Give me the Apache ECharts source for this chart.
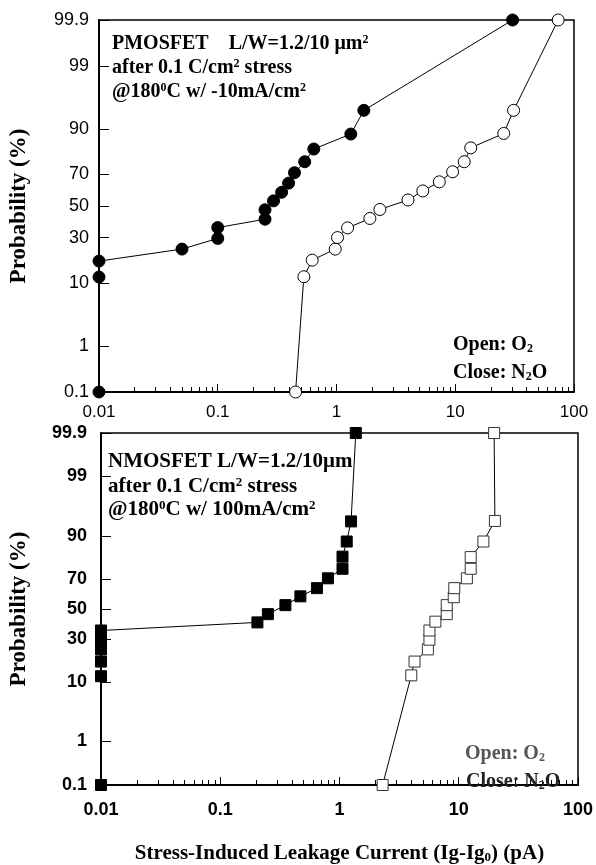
<!DOCTYPE html>
<html>
<head>
<meta charset="utf-8">
<script src="https://cdn.jsdelivr.net/npm/echarts@6/dist/echarts.min.js"></script>
<style>
html,body{margin:0;padding:0;background:#fff;}
#main{width:596px;height:865px;}
</style>
</head>
<body>
<div id="main"></div>
<script>
// tick labels
var xTickValues = [0.01, 0.1, 1, 10, 100];
var xTickLabels = ['0.01', '0.1', '1', '10', '100'];
var yTickValues = [0.1, 1, 10, 30, 50, 70, 90, 99, 99.9];
var yTickLabels = ['0.1', '1', '10', '30', '50', '70', '90', '99', '99.9'];

// PMOSFET, closed circles = N2O
var pmosN2OCurrent = [0.01, 0.01, 0.01, 0.05, 0.1, 0.1, 0.25, 0.25, 0.295, 0.345, 0.395, 0.443, 0.54, 0.644, 1.32, 1.70, 30.4];
var pmosN2OProb = [0.1, 11.9, 18, 23.7, 29.5, 36, 41.3, 47.5, 53.4, 59, 64.8, 71, 76.9, 82.8, 88.4, 94.4, 99.9];
// PMOSFET, open circles = O2
var pmosO2Current = [0.452, 0.531, 0.624, 0.975, 1.02, 1.24, 1.91, 2.32, 4.0, 5.33, 7.34, 9.5, 11.9, 13.5, 25.6, 31, 73.6];
var pmosO2Prob = [0.1, 12, 18.4, 23.7, 30, 35.8, 41.8, 47.7, 54, 59.9, 65.6, 71.5, 76.9, 83.3, 88.6, 94.4, 99.9];
// NMOSFET, closed squares = N2O
var nmosN2OCurrent = [0.01, 0.01, 0.01, 0.01, 0.01, 0.01, 0.205, 0.251, 0.352, 0.47, 0.647, 0.80, 1.06, 1.06, 1.15, 1.25, 1.37];
var nmosN2OProb = [0.1, 11.9, 17.8, 23.9, 29.5, 35.3, 40.7, 46.4, 52.7, 58.8, 64.3, 70.5, 76, 82.1, 88.2, 93.8, 99.9];
// NMOSFET, open squares = O2
var nmosO2Current = [2.30, 4.0, 4.26, 5.51, 5.68, 5.68, 6.37, 7.93, 7.93, 9.08, 9.18, 11.7, 12.6, 12.6, 16.1, 20.1, 19.8];
var nmosO2Prob = [0.1, 12.2, 17.8, 23.9, 29.5, 35.3, 41.2, 46.4, 52.7, 58.2, 64.3, 70.5, 76, 81.9, 88.2, 93.9, 99.9];

var serif = '"Liberation Serif", "Times New Roman", serif';
var sans = '"Liberation Sans", Arial, sans-serif';

// inverse normal cdf (probability paper)
function probit(pct)
{
    var p = pct / 100;
    var a = [-3.969683028665376e+01, 2.209460984245205e+02, -2.759285104469687e+02, 1.383577518672690e+02, -3.066479806614716e+01, 2.506628277459239e+00];
    var b = [-5.447609879822406e+01, 1.615858368580409e+02, -1.556989798598866e+02, 6.680131188771972e+01, -1.328068155288572e+01];
    var c = [-7.784894002430293e-03, -3.223964580411365e-01, -2.400758277161838e+00, -2.549732539343734e+00, 4.374664141464968e+00, 2.938163982698783e+00];
    var d = [7.784695709041462e-03, 3.224671290700398e-01, 2.445134137142996e+00, 3.754408661907416e+00];
    var pl = 0.02425, q, r;
    if (p < pl) {
        q = Math.sqrt(-2 * Math.log(p));
        return (((((c[0]*q+c[1])*q+c[2])*q+c[3])*q+c[4])*q+c[5]) / ((((d[0]*q+d[1])*q+d[2])*q+d[3])*q+1);
    }
    if (p > 1 - pl) {
        q = Math.sqrt(-2 * Math.log(1 - p));
        return -(((((c[0]*q+c[1])*q+c[2])*q+c[3])*q+c[4])*q+c[5]) / ((((d[0]*q+d[1])*q+d[2])*q+d[3])*q+1);
    }
    q = p - 0.5; r = q * q;
    return (((((a[0]*r+a[1])*r+a[2])*r+a[3])*r+a[4])*r+a[5])*q / (((((b[0]*r+b[1])*r+b[2])*r+b[3])*r+b[4])*r+1);
}

function pairs(xs, ps)
{
    var out = [];
    for (var i = 0; i < xs.length; i++) out.push([xs[i], probit(ps[i])]);
    return out;
}

var yTickZ = yTickValues.map(probit);
var yMin = probit(0.1), yMax = probit(99.9);

// minor ticks in log10 space
var minorLog = [];
for (var k = -2; k < 2; k++) {
    for (var m = 2; m <= 9; m++) minorLog.push(Math.log(m * Math.pow(10, k)) / Math.LN10);
}

function yLabel(v)
{
    var best = 0;
    for (var i = 1; i < yTickZ.length; i++) {
        if (Math.abs(yTickZ[i] - v) < Math.abs(yTickZ[best] - v)) best = i;
    }
    return yTickLabels[best];
}
function xLabel(v)
{
    var best = 0;
    for (var i = 1; i < xTickValues.length; i++) {
        if (Math.abs(Math.log(xTickValues[i] / v)) < Math.abs(Math.log(xTickValues[best] / v))) best = i;
    }
    return xTickLabels[best];
}

function yAxisFor(grid, bold, gap, margin)
{
    return {
        gridIndex: grid, type: 'value', min: yMin, max: yMax,
        axisLine: { show: true, onZero: false, lineStyle: { color: '#000', width: 2 } },
        axisTick: { show: true, inside: true, length: 10, customValues: yTickZ, lineStyle: { color: '#000', width: 1 } },
        axisLabel: { customValues: yTickZ, formatter: yLabel, color: '#000', fontFamily: sans, fontSize: 18, fontWeight: bold ? 'bold' : 'normal', margin: margin },
        splitLine: { show: false },
        name: 'Probability (%)', nameLocation: 'middle', nameGap: gap,
        nameTextStyle: { fontFamily: serif, fontSize: 23, fontWeight: 'bold', color: '#000' }
    };
}
function xMajorFor(grid, bold, margin)
{
    return {
        gridIndex: grid, type: 'log', logBase: 10, min: 0.01, max: 100, position: 'bottom',
        axisLine: { show: true, onZero: false, lineStyle: { color: '#000', width: 2 } },
        axisTick: { show: true, inside: true, length: 8, lineStyle: { color: '#000', width: 1 } },
        axisLabel: { formatter: xLabel, color: '#000', fontFamily: sans, fontSize: bold ? 18 : 17, fontWeight: bold ? 'bold' : 'normal', margin: margin },
        splitLine: { show: false }, minorTick: { show: false }
    };
}
function xMinorFor(grid)
{
    return {
        gridIndex: grid, type: 'value', min: -2, max: 2, position: 'bottom',
        axisLine: { show: false, onZero: false },
        axisTick: { show: true, inside: true, length: 5, customValues: minorLog, lineStyle: { color: '#000', width: 1 } },
        axisLabel: { show: false },
        splitLine: { show: false }
    };
}

function lineSeries(xi, yi, data, symbol, size, filled, edge)
{
    return {
        type: 'line', xAxisIndex: xi, yAxisIndex: yi, data: data,
        symbol: symbol, symbolSize: size, showAllSymbol: true, clip: false,
        lineStyle: { color: '#000', width: 1 },
        itemStyle: { color: filled ? '#000' : '#fff', borderColor: edge, borderWidth: 1, opacity: 1 },
        z: filled ? 3 : 4
    };
}

function rich(size, color)
{
    var base = { fontFamily: serif, fontSize: size, fontWeight: 'bold', fill: color };
    return {
        n: base,
        sup: { fontFamily: serif, fontSize: Math.round(size * 0.62), fontWeight: 'bold', fill: color, verticalAlign: 'top' },
        sub: { fontFamily: serif, fontSize: Math.round(size * 0.62), fontWeight: 'bold', fill: color, verticalAlign: 'bottom' }
    };
}
function txt(x, y, text, size, color)
{
    color = color || '#000';
    return {
        type: 'text', x: x, y: y, z: 10,
        style: { text: text, fill: color, fontFamily: serif, fontSize: size, fontWeight: 'bold', verticalAlign: 'middle', rich: rich(size, color) }
    };
}

var myChart = echarts.init(document.getElementById('main'));
var option = {
    animation: false,
    backgroundColor: '#fff',
    grid: [
        { left: 95, top: 20, width: 479, height: 372, show: true, borderColor: '#000', borderWidth: 1.5, backgroundColor: 'transparent' },
        { left: 97.5, top: 433, width: 480.5, height: 360, show: true, borderColor: '#000', borderWidth: 1.5, backgroundColor: 'transparent' }
    ],
    xAxis: [
        xMajorFor(0, false, 12),
        xMinorFor(0),
        (function () {
            var a = xMajorFor(1, true, 16);
            a.name = '{n|Stress-Induced Leakage Current (Ig-Ig}{sub|0}{n|) (pA)}';
            a.nameLocation = 'middle';
            a.nameGap = 58;
            a.nameTextStyle = {
                rich: {
                    n: { fontFamily: serif, fontSize: 21, fontWeight: 'bold', color: '#000' },
                    sub: { fontFamily: serif, fontSize: 13, fontWeight: 'bold', color: '#000', verticalAlign: 'bottom' }
                }
            };
            return a;
        })(),
        xMinorFor(1)
    ],
    yAxis: [
        yAxisFor(0, false, 68, 10),
        yAxisFor(1, true, 70, 14)
    ],
    series: [
        lineSeries(0, 0, pairs(pmosN2OCurrent, pmosN2OProb), 'circle', 12, true, '#000'),
        lineSeries(0, 0, pairs(pmosO2Current, pmosO2Prob), 'circle', 12, false, '#000'),
        lineSeries(2, 1, pairs(nmosN2OCurrent, nmosN2OProb), 'rect', 11, true, '#000'),
        lineSeries(2, 1, pairs(nmosO2Current, nmosO2Prob), 'rect', 11, false, '#333')
    ],
    graphic: [
        txt(112, 44, '{n|PMOSFET    L/W=1.2/10 \u03bcm}{sup|2}', 20),
        txt(112, 68, '{n|after 0.1 C/cm}{sup|2}{n| stress}', 20),
        txt(112, 92, '{n|@180}{sup|0}{n|C w/ -10mA/cm}{sup|2}', 20),
        txt(453, 345, '{n|Open: O}{sub|2}', 20),
        txt(453, 373, '{n|Close: N}{sub|2}{n|O}', 20),
        txt(108, 462, '{n|NMOSFET L/W=1.2/10\u03bcm}', 21),
        txt(108, 487, '{n|after 0.1 C/cm}{sup|2}{n| stress}', 21),
        txt(108, 510, '{n|@180}{sup|0}{n|C w/ 100mA/cm}{sup|2}', 21),
        txt(465, 754, '{n|Open: O}{sub|2}', 20, '#555'),
        txt(466, 782, '{n|Close: N}{sub|2}{n|O}', 20, '#222')
    ]
};
myChart.setOption(option);
</script>
</body>
</html>
